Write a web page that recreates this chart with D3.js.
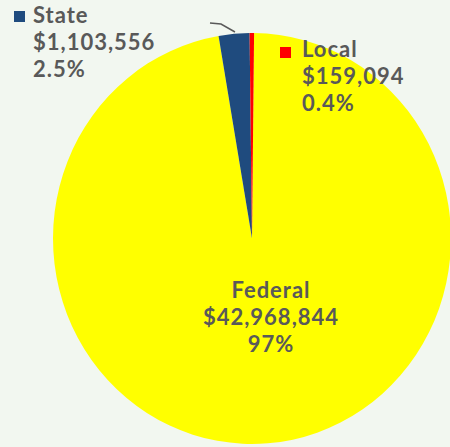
<!DOCTYPE html>
<html>
<head>
<meta charset="utf-8">
<script src="https://cdn.jsdelivr.net/npm/d3@7"></script>
<style>
  html, body { margin: 0; padding: 0; background: #f2f7f0; }
  svg { display: block; }
  text { font-family: Lato, "Open Sans", sans-serif; font-weight: 700; fill: #595959; letter-spacing: 1px; }
</style>
</head>
<body>
<div id="chart"></div>
<script>
// Funding sources, clockwise from the top
const categories = ["Federal", "State", "Local"];
const amounts = [42968844, 1103556, 159094];
const pctDecimals = [0, 1, 1];
const colors = ["#ffff00", "#1f4b7e", "#ff0000"];

const width = 450, height = 447;
const cx = 252, cy = 238.5, rx = 199, ry = 205.5;

const svg = d3.select("#chart").append("svg")
  .attr("width", width).attr("height", height);

const total = d3.sum(amounts);
const data = categories.map((c, i) => ({ name: c, value: amounts[i], color: colors[i], dec: pctDecimals[i] }));

const offset = 0.6 * Math.PI / 180;
const pie = d3.pie().sort(null).value(d => d.value)
  .startAngle(offset).endAngle(2 * Math.PI + offset);
const arc = d3.arc().innerRadius(0).outerRadius(ry);

const g = svg.append("g")
  .attr("transform", `translate(${cx},${cy}) scale(${rx / ry},1)`);

g.selectAll("path").data(pie(data)).join("path")
  .attr("d", arc)
  .attr("fill", d => d.data.color);

// short leader line above the State slice
svg.append("polyline")
  .attr("points", "210,23 221,24 235,32")
  .attr("fill", "none")
  .attr("stroke", "#595959")
  .attr("stroke-width", 1.5);

const money = d3.format("$,");
const pct = (v, dec) => d3.format(`.${dec}%`)(v / total);

function label(d, x, y, anchor, marker) {
  const t = svg.append("text").attr("font-size", 22).attr("text-anchor", anchor);
  const lines = [d.name, money(d.value), pct(d.value, d.dec)];
  lines.forEach((s, i) => {
    t.append("tspan").attr("x", x).attr("y", y + i * 27).text(s);
  });
  if (marker) {
    svg.append("rect")
      .attr("x", marker[0]).attr("y", marker[1])
      .attr("width", 11).attr("height", 11)
      .attr("fill", d.color);
  }
}

label(data[1], 33, 23, "start", [14, 11]);
label(data[2], 302, 57, "start", [280, 47]);
label(data[0], 271, 298, "middle", null);
</script>
</body>
</html>
